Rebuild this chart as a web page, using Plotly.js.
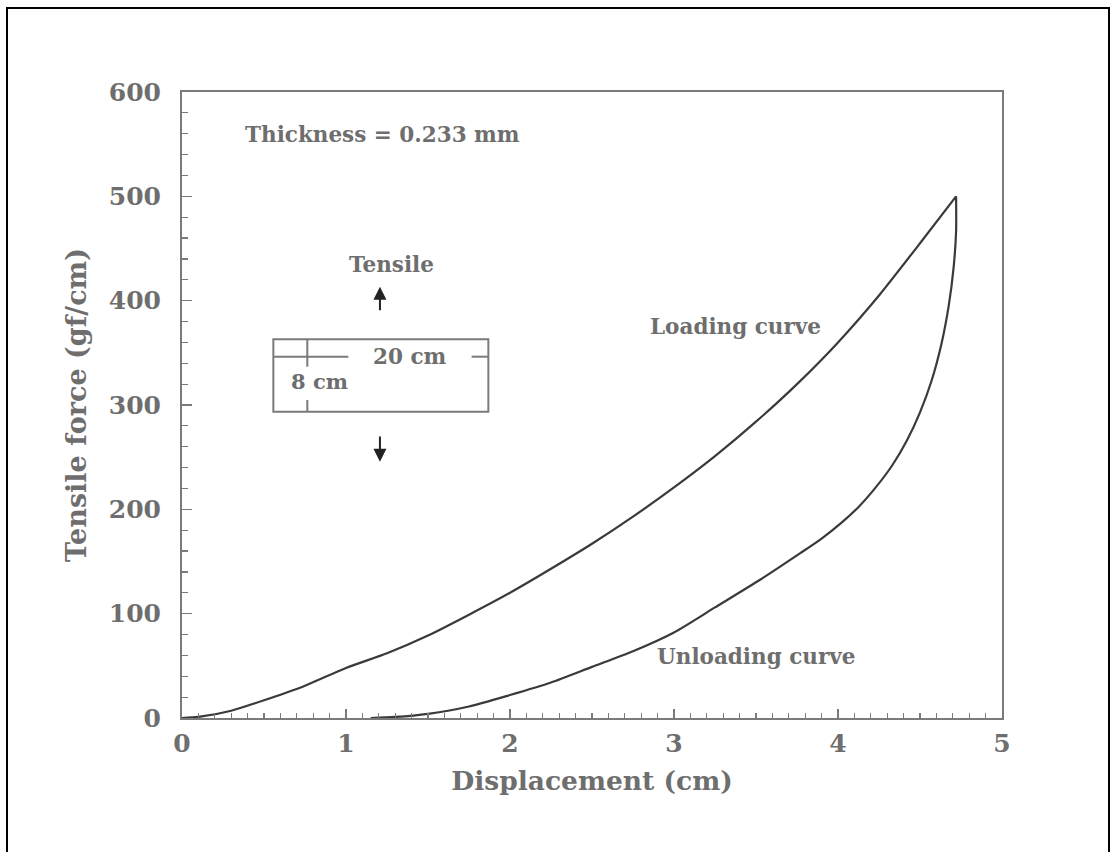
<!DOCTYPE html>
<html>
<head>
<meta charset="utf-8">
<script src="https://cdn.plot.ly/plotly-3.0.1.min.js"></script>
<style>
  html, body { margin: 0; padding: 0; background: #ffffff; overflow: hidden; }
  #chart { position: absolute; left: 0; top: 0; width: 1120px; height: 852px; }
  #frame { position: absolute; left: 6px; top: 7px; width: 1100px; height: 900px;
           border: 2px solid #000; pointer-events: none; }
</style>
</head>
<body>
<div id="chart"></div>
<div id="frame"></div>
<script>
// Loading curve (displacement cm, tensile force gf/cm)
const loadingX = [0, 0.1, 0.3, 0.5, 0.75, 1.0, 1.25, 1.5, 1.75, 2.0, 2.25, 2.5, 2.75, 3.0, 3.25, 3.5, 3.75, 4.0, 4.25, 4.5, 4.72];
const loadingY = [0, 1, 7, 17, 31, 48, 62, 79, 99, 120, 143, 167, 193, 221, 251, 284, 320, 360, 405, 455, 500];

// Unloading curve (from peak back to zero)
const unloadingX = [4.72, 4.72, 4.705, 4.675, 4.63, 4.57, 4.50, 4.42, 4.33, 4.23, 4.13, 4.02, 3.90, 3.77, 3.52, 3.25, 3.0, 2.75, 2.5, 2.25, 2.0, 1.75, 1.5, 1.3, 1.15];
const unloadingY = [500, 466, 432, 395, 358, 323, 293, 266, 242, 221, 203, 187, 172, 158, 132, 106, 82, 64, 49, 34, 22, 11, 4, 1, 0];

const xTickVals = [0, 1, 2, 3, 4, 5];
const yTickVals = [0, 100, 200, 300, 400, 500, 600];

const FONT = "DejaVu Serif, Liberation Serif, serif";
const GREY = "#6e6e6e";
const AXIS = "#7a7a7a";

const traces = [
  { x: loadingX, y: loadingY, mode: "lines", type: "scatter", name: "Loading curve",
    line: { color: "#3a3a3a", width: 2.2, shape: "spline", smoothing: 0.6 }, hoverinfo: "skip" },
  { x: unloadingX, y: unloadingY, mode: "lines", type: "scatter", name: "Unloading curve",
    line: { color: "#3a3a3a", width: 2.2, shape: "spline", smoothing: 0.7 }, hoverinfo: "skip" }
];

const lineStyle = { color: "#7a7a7a", width: 2 };
const shapes = [
  { type: "rect", xref: "x", yref: "y", x0: 0.557, x1: 1.868, y0: 293.6, y1: 363.0, line: lineStyle },
  { type: "line", xref: "x", yref: "y", x0: 0.557, x1: 1.014, y0: 346.3, y1: 346.3, line: lineStyle },
  { type: "line", xref: "x", yref: "y", x0: 1.766, x1: 1.868, y0: 346.3, y1: 346.3, line: lineStyle },
  { type: "line", xref: "x", yref: "y", x0: 0.764, x1: 0.764, y0: 336.7, y1: 363.0, line: lineStyle },
  { type: "line", xref: "x", yref: "y", x0: 0.764, x1: 0.764, y0: 293.6, y1: 304.8, line: lineStyle }
];

function txt(text, x, y, size, xanchor) {
  return { text: text, x: x, y: y, xref: "x", yref: "y", showarrow: false,
           xanchor: xanchor || "center", yanchor: "middle",
           font: { family: FONT, size: size, color: GREY, weight: "bold" } };
}

const annotations = [
  txt("Thickness = 0.233 mm", 0.372, 558.8, 21.5, "left"),
  txt("Tensile", 1.279, 434.2, 21.5),
  txt("20 cm", 1.390, 346.3, 21.5),
  txt("8 cm", 0.841, 322.4, 21),
  txt("Loading curve", 3.372, 375.7, 21.5),
  txt("Unloading curve", 3.503, 58.5, 21.5),
  { x: 1.207, y: 413.4, ax: 1.207, ay: 389.4, xref: "x", yref: "y", axref: "x", ayref: "y",
    text: "", showarrow: true, arrowhead: 2, arrowsize: 1.3, arrowwidth: 2, arrowcolor: "#222" },
  { x: 1.207, y: 245.7, ax: 1.207, ay: 271.3, xref: "x", yref: "y", axref: "x", ayref: "y",
    text: "", showarrow: true, arrowhead: 2, arrowsize: 1.3, arrowwidth: 2, arrowcolor: "#222" }
];

const layout = {
  width: 1120, height: 852,
  margin: { l: 182, r: 118, t: 92, b: 134 },
  paper_bgcolor: "#ffffff", plot_bgcolor: "#ffffff",
  showlegend: false,
  font: { family: FONT, color: GREY },
  xaxis: {
    range: [0, 5], tickvals: xTickVals, ticktext: xTickVals.map(String),
    showgrid: false, zeroline: false,
    showline: true, mirror: true, linecolor: AXIS, linewidth: 2,
    ticks: "inside", ticklen: 9, tickwidth: 1.5, tickcolor: AXIS,
    minor: { dtick: 0.1, ticks: "inside", ticklen: 5, tickwidth: 1.2, tickcolor: AXIS, showgrid: false },
    tickfont: { family: FONT, size: 25, color: GREY, weight: "bold" },
    ticklabelstandoff: 2,
    title: { text: "Displacement (cm)", standoff: 14,
             font: { family: FONT, size: 26.5, color: GREY, weight: "bold" } }
  },
  yaxis: {
    range: [0, 600], tickvals: yTickVals, ticktext: yTickVals.map(String),
    showgrid: false, zeroline: false,
    showline: true, mirror: true, linecolor: AXIS, linewidth: 2,
    ticks: "inside", ticklen: 10, tickwidth: 1.5, tickcolor: AXIS,
    minor: { dtick: 20, ticks: "inside", ticklen: 6, tickwidth: 1.2, tickcolor: AXIS, showgrid: false },
    tickfont: { family: FONT, size: 25, color: GREY, weight: "bold" },
    ticklabelstandoff: 14,
    title: { text: "Tensile force (gf/cm)", standoff: 14,
             font: { family: FONT, size: 27, color: GREY, weight: "bold" } }
  },
  shapes: shapes,
  annotations: annotations
};

Plotly.newPlot("chart", traces, layout, { displayModeBar: false, staticPlot: true });
</script>
</body>
</html>
